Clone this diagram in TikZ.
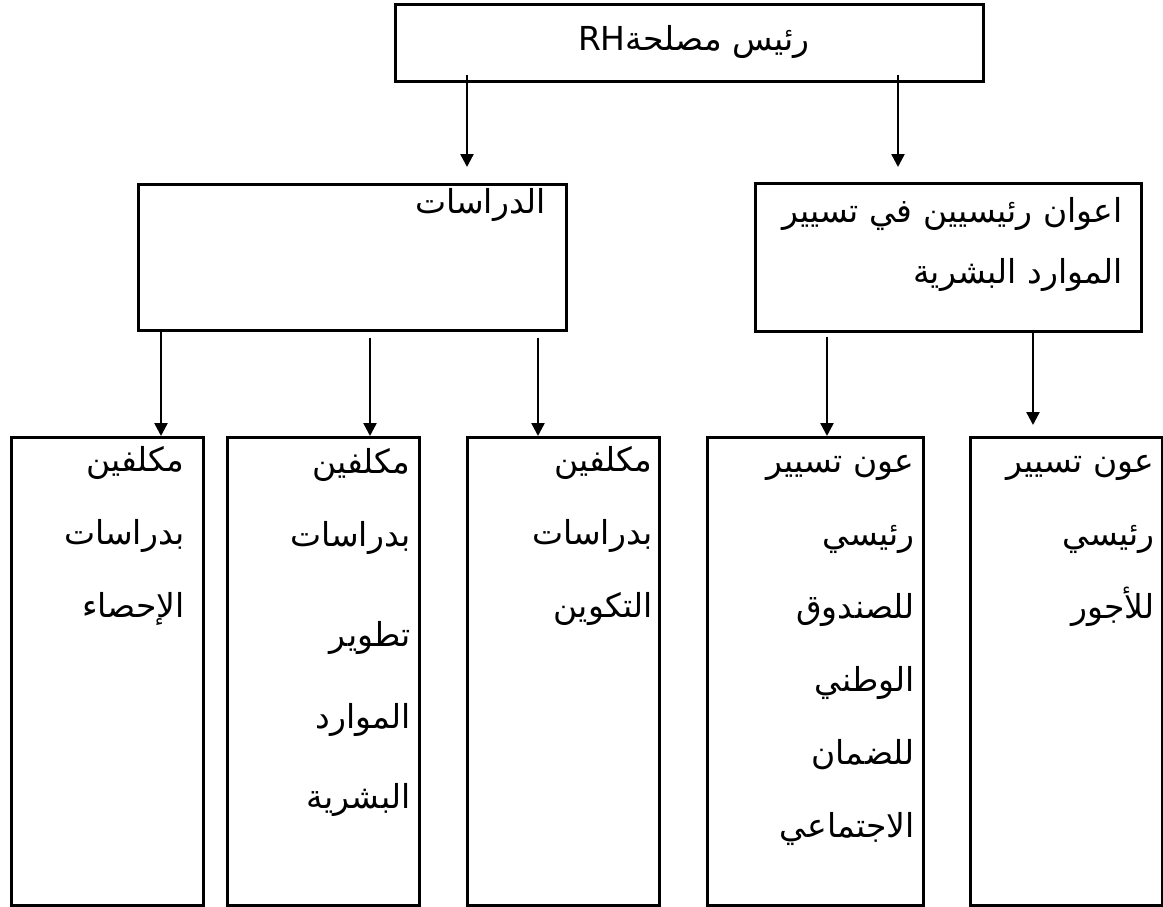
\documentclass[tikz,border=0pt]{standalone}
\usepackage{fontspec}
\usepackage{tikz}
\usetikzlibrary{positioning,arrows.meta,calc}
\TeXXeTstate=1
\newfontfamily\arabicfont[Script=Arabic]{DejaVu Sans}
\newcommand{\arl}[1]{\beginR #1\endR}
\tikzset{
  box/.style={draw,line width=2.8pt,anchor=north west,inner sep=0pt},
  lbl/.style={anchor=base east,align=right,inner sep=0pt,font=\arabicfont\fontsize{33}{73}\selectfont},
  ar/.style={-{Triangle[length=13pt,width=13pt]},line width=2.4pt},
}
\begin{document}
\begin{tikzpicture}[x=1pt,y=-1pt]
  \useasboundingbox (0,0) rectangle (1163,906);
  % top
  \node[box,minimum width=588pt,minimum height=77pt] (chef) at (394,3) {};
  \node[lbl] (chef-t) at ($(chef.north east)+(-175,47)$) {\arl{رئيس مصلحة\beginL RH\endL}};
  % second level
  \node[box,minimum width=428pt,minimum height=146pt] (etud) at (137,183) {};
  \node[lbl] (etud-t) at ($(etud.north east)+(-22,30)$) {\arl{الدراسات}};
  \node[box,minimum width=386pt,minimum height=148pt] (aawan) at (754,182) {};
  \node[lbl,font=\arabicfont\fontsize{33}{61}\selectfont] (aawan-t) at ($(aawan.north east)+(-20,101)$)
    {\arl{اعوان رئيسيين في تسيير}\\\arl{الموارد البشرية}};
  \draw[ar] ($(chef.south west)+(73,-8)$) -- ($(etud.north west)+(330,-16)$);
  \draw[ar] ($(chef.south west)+(504,-8)$) -- ($(aawan.north west)+(144,-15)$);
  % bottom level (text nodes sit on their last line)
  \node[box,minimum width=192pt,minimum height=468pt] (ihsa) at (10,436) {};
  \node[box,minimum width=192pt,minimum height=468pt] (tatw) at (226,436) {};
  \node[box,minimum width=192pt,minimum height=468pt] (takw) at (466,436) {};
  \node[box,minimum width=216pt,minimum height=468pt] (daman) at (706,436) {};
  \node[box,minimum width=192pt,minimum height=468pt] (ojour) at (969,436) {};
  \node[lbl] (ihsa-t) at ($(ihsa.north east)+(-20,181)$)
    {\arl{مكلفين}\\\arl{بدراسات}\\\arl{الإحصاء}};
  \node[lbl] (tatw-t) at ($(tatw.north east)+(-10,372)$)
    {\arl{مكلفين}\\\arl{بدراسات}\\[27pt]\arl{تطوير}\\[9pt]\arl{الموارد}\\[7pt]\arl{البشرية}};
  \node[lbl] (takw-t) at ($(takw.north east)+(-8,181)$)
    {\arl{مكلفين}\\\arl{بدراسات}\\\arl{التكوين}};
  \node[lbl] (daman-t) at ($(daman.north east)+(-10,401)$)
    {\arl{عون تسيير}\\\arl{رئيسي}\\\arl{للصندوق}\\\arl{الوطني}\\\arl{للضمان}\\\arl{الاجتماعي}};
  \node[lbl] (ojour-t) at ($(ojour.north east)+(-9,182)$)
    {\arl{عون تسيير}\\\arl{رئيسي}\\\arl{للأجور}};
  \draw[ar] ($(etud.south west)+(24,0)$) -- ($(ihsa.north west)+(151,0)$);
  \draw[ar] ($(etud.south west)+(233,6)$) -- ($(tatw.north west)+(144,0)$);
  \draw[ar] ($(etud.south west)+(401,6)$) -- ($(takw.north west)+(72,0)$);
  \draw[ar] ($(aawan.south west)+(73,4)$) -- ($(daman.north west)+(121,0)$);
  \draw[ar] ($(aawan.south west)+(279,-2)$) -- ($(ojour.north west)+(64,-11)$);
\end{tikzpicture}
\end{document}
